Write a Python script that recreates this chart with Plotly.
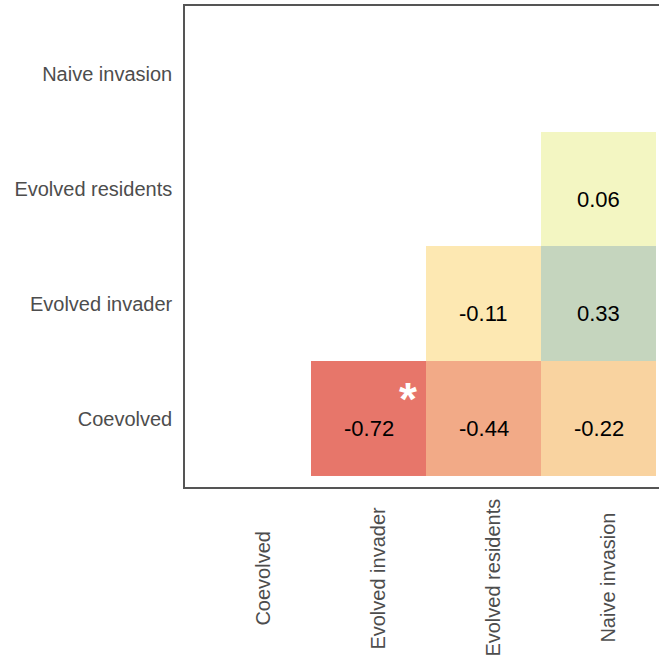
import plotly.graph_objects as go

categories = ["Coevolved", "Evolved invader", "Evolved residents", "Naive invasion"]

# correlation values (row = y category, col = x category); None = empty cell
values = [
    [None, -0.72, -0.44, -0.22],   # Coevolved
    [None, None, -0.11, 0.33],     # Evolved invader
    [None, None, None, 0.06],      # Evolved residents
    [None, None, None, None],      # Naive invasion
]
significant = [("Evolved invader", "Coevolved")]

# colour key values -> colours
key_values = [-0.72, -0.44, -0.22, -0.11, 0.06, 0.33]
key_colors = ["#E7766A", "#F2AA87", "#F9D3A0", "#FDE8B2", "#F3F6C2", "#C5D5BE"]

zmin, zmax = -1, 1
cs = [[0, key_colors[0]]]
for v, c in zip(key_values, key_colors):
    cs.append([(v - zmin) / (zmax - zmin), c])
cs.append([1, key_colors[-1]])

fig = go.Figure(go.Heatmap(
    z=values, x=categories, y=categories,
    colorscale=cs, zmin=zmin, zmax=zmax, showscale=False, hoverongaps=False,
))

for r, row in enumerate(values):
    for c, v in enumerate(row):
        if v is None:
            continue
        fig.add_annotation(x=categories[c], y=categories[r], xref="x", yref="y",
                           text=f"{v:.2f}", showarrow=False, yshift=-10,
                           font=dict(size=22, color="black", family="Liberation Sans, Arial"))

for xc, yc in significant:
    fig.add_annotation(x=categories.index(xc) + 0.34, y=categories.index(yc) + 0.24,
                       xref="x", yref="y", text="<b>*</b>", showarrow=False, yshift=-8,
                       font=dict(size=46, color="white", family="Liberation Sans, Arial"))

for i, c in enumerate(categories):
    fig.add_annotation(x=i + 0.08, y=-0.189, xref="x", yref="paper", text=c,
                       textangle=-90, showarrow=False, xanchor="center", yanchor="middle",
                       font=dict(size=20, color="#4D4D4D", family="Liberation Sans, Arial"))

pad = 11 / 115
fig.update_layout(
    width=659, height=663,
    margin=dict(l=185, r=0, t=6, b=176),
    plot_bgcolor="white", paper_bgcolor="white",
    font=dict(family="Liberation Sans, Arial", color="#4D4D4D"),
)
fig.update_xaxes(type="category", range=[-0.5 - pad, -0.5 - pad + 474 / 115],
                 showticklabels=False, showgrid=False, zeroline=False,
                 showline=True, linecolor="#555555", linewidth=1.5, mirror=True, ticks="")
fig.update_yaxes(type="category", range=[-0.5 - pad, 3.5 + pad],
                 showgrid=False, zeroline=False, showline=True, linecolor="#555555",
                 linewidth=1.5, ticks="", ticklabelstandoff=7,
                 tickfont=dict(size=20, color="#4D4D4D", family="Liberation Sans, Arial"))

fig.write_html("out.html")
